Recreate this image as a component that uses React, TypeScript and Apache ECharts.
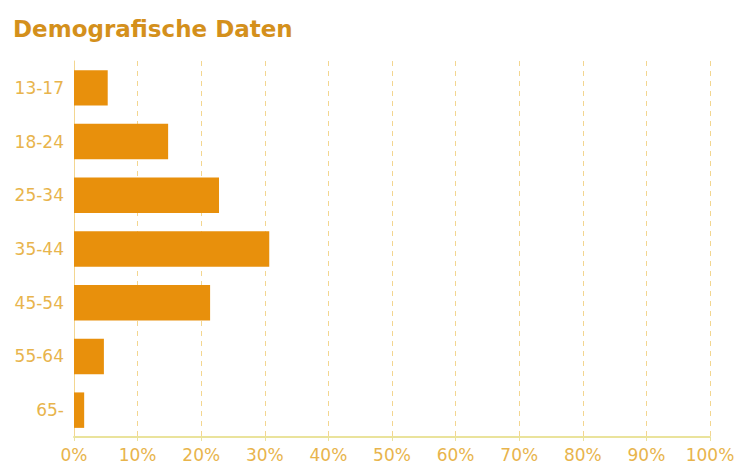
import { useEffect, useRef } from 'react'
import * as echarts from 'echarts'

const ageGroups = ['13-17', '18-24', '25-34', '35-44', '45-54', '55-64', '65-']
const shares = [5.3, 14.8, 22.8, 30.7, 21.4, 4.7, 1.6]

const BAR = '#E8900C'
const LABEL = '#E8B44C'
const GRID = '#F3D690'
const AXIS = '#EAE39C'

export default function App() {
  const ref = useRef<HTMLDivElement>(null)

  useEffect(() => {
    document.body.style.margin = '0'
    if (!ref.current) return
    const chart = echarts.init(ref.current, null, { renderer: 'svg' })

    chart.setOption({
      animation: false,
      title: {
        text: 'Demografische Daten',
        left: 8,
        top: 12,
        textStyle: {
          color: '#D4901C',
          fontFamily: 'DejaVu Sans',
          fontWeight: 'bold',
          fontSize: 23,
        },
      },
      grid: { left: 74, right: 33, top: 61, bottom: 38, containLabel: false },
      xAxis: {
        type: 'value',
        min: 0,
        max: 100,
        interval: 10,
        axisLine: { show: true, lineStyle: { color: AXIS, width: 2 } },
        axisTick: { show: true, length: 4, lineStyle: { color: AXIS } },
        splitLine: { show: true, lineStyle: { color: GRID, type: [5, 5], width: 1 } },
        axisLabel: {
          color: LABEL,
          fontFamily: 'DejaVu Sans',
          fontSize: 17,
          margin: 9,
          formatter: (v: number) => `${v}%`,
        },
      },
      yAxis: {
        type: 'category',
        data: ageGroups,
        inverse: true,
        axisLine: { show: true, lineStyle: { color: GRID } },
        axisTick: { show: false },
        axisLabel: {
          color: LABEL,
          fontFamily: 'DejaVu Sans',
          fontSize: 17,
          margin: 10,
        },
      },
      series: [
        {
          type: 'bar',
          data: shares,
          barWidth: '66%',
          itemStyle: { color: BAR },
        },
      ],
    })

    return () => chart.dispose()
  }, [])

  return <div ref={ref} style={{ width: 743, height: 475 }} />
}
